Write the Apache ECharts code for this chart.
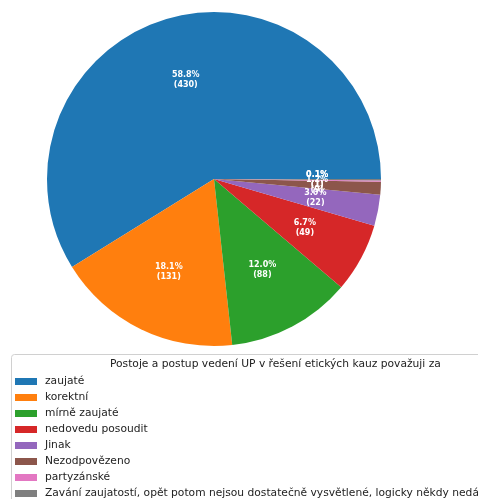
<!DOCTYPE html>
<html>
<head>
<meta charset="utf-8">
<script src="https://cdn.jsdelivr.net/npm/echarts@6/dist/echarts.min.js"></script>
<style>
  html, body { margin: 0; padding: 0; background: #fff; }
  #chart { width: 478px; height: 499px; }
</style>
</head>
<body>
<div id="chart"></div>
<script>
// kategorie a hodnoty
var categories = ['zaujaté', 'korektní', 'mírně zaujaté', 'nedovedu posoudit', 'Jinak', 'Nezodpovězeno', 'partyzánské',
  'Zavání zaujatostí, opět potom nejsou dostatečně vysvětlené, logicky někdy nedávají smysl']
var counts = [430, 131, 88, 49, 22, 9, 1, 1]
var percentLabels = ['58.8%', '18.1%', '12.0%', '6.7%', '3.0%', '1.2%', '0.1%', '0.1%']
var colors = ['#1f77b4', '#ff7f0e', '#2ca02c', '#d62728', '#9467bd', '#8c564b', '#e377c2', '#7f7f7f']
var legendTitle = 'Postoje a postup vedení UP v řešení etických kauz považuji za'

var R = 167
var cx = 214
var cy = 179

var pieData = categories.map(function (name, i) {
  return { name: name, value: counts[i], itemStyle: { color: colors[i] } }
})
// neviditelny koláč pro popisky na 0.6 poloměru
var labelData = categories.map(function (name, i) {
  return { name: name, value: counts[i], label: { formatter: percentLabels[i] + '\n(' + counts[i] + ')' } }
})

var myChart = echarts.init(document.getElementById('chart'))
var option = {
  animation: false,
  color: colors,
  title: {
    text: legendTitle,
    left: 110,
    top: 359,
    padding: 0,
    textStyle: { fontSize: 10.7, fontWeight: 'normal', color: '#222', fontFamily: 'DejaVu Sans' },
  },
  graphic: [
    {
      type: 'rect',
      z: -1,
      shape: { x: 11.5, y: 354.5, width: 540, height: 160, r: 3 },
      style: { fill: 'rgba(255,255,255,0.8)', stroke: '#d0d0d0', lineWidth: 1 },
    },
  ],
  legend: {
    orient: 'vertical',
    left: 15,
    top: 375,
    height: 200,
    padding: 0,
    itemWidth: 22,
    itemHeight: 7,
    itemGap: 3,
    icon: 'rect',
    selectedMode: false,
    data: categories,
    textStyle: { fontSize: 10.7, color: '#222', fontFamily: 'DejaVu Sans', padding: [0, 0, 0, 3], lineHeight: 13 },
  },
  series: [
    {
      type: 'pie',
      center: [cx, cy],
      radius: [0, R],
      startAngle: 0,
      clockwise: false,
      label: { show: false },
      labelLine: { show: false },
      emphasis: { disabled: true },
      data: pieData,
    },
    {
      type: 'pie',
      center: [cx, cy],
      radius: [0, R * 1.2],
      startAngle: 0,
      clockwise: false,
      silent: true,
      itemStyle: { color: 'rgba(0,0,0,0)' },
      label: {
        show: true,
        position: 'inside',
        color: '#fff',
        fontSize: 8,
        fontWeight: 'bold',
        fontFamily: 'DejaVu Sans',
        lineHeight: 10,
      },
      labelLine: { show: false },
      labelLayout: { hideOverlap: false },
      emphasis: { disabled: true },
      data: labelData,
    },
  ],
}
myChart.setOption(option, true)
</script>
</body>
</html>
